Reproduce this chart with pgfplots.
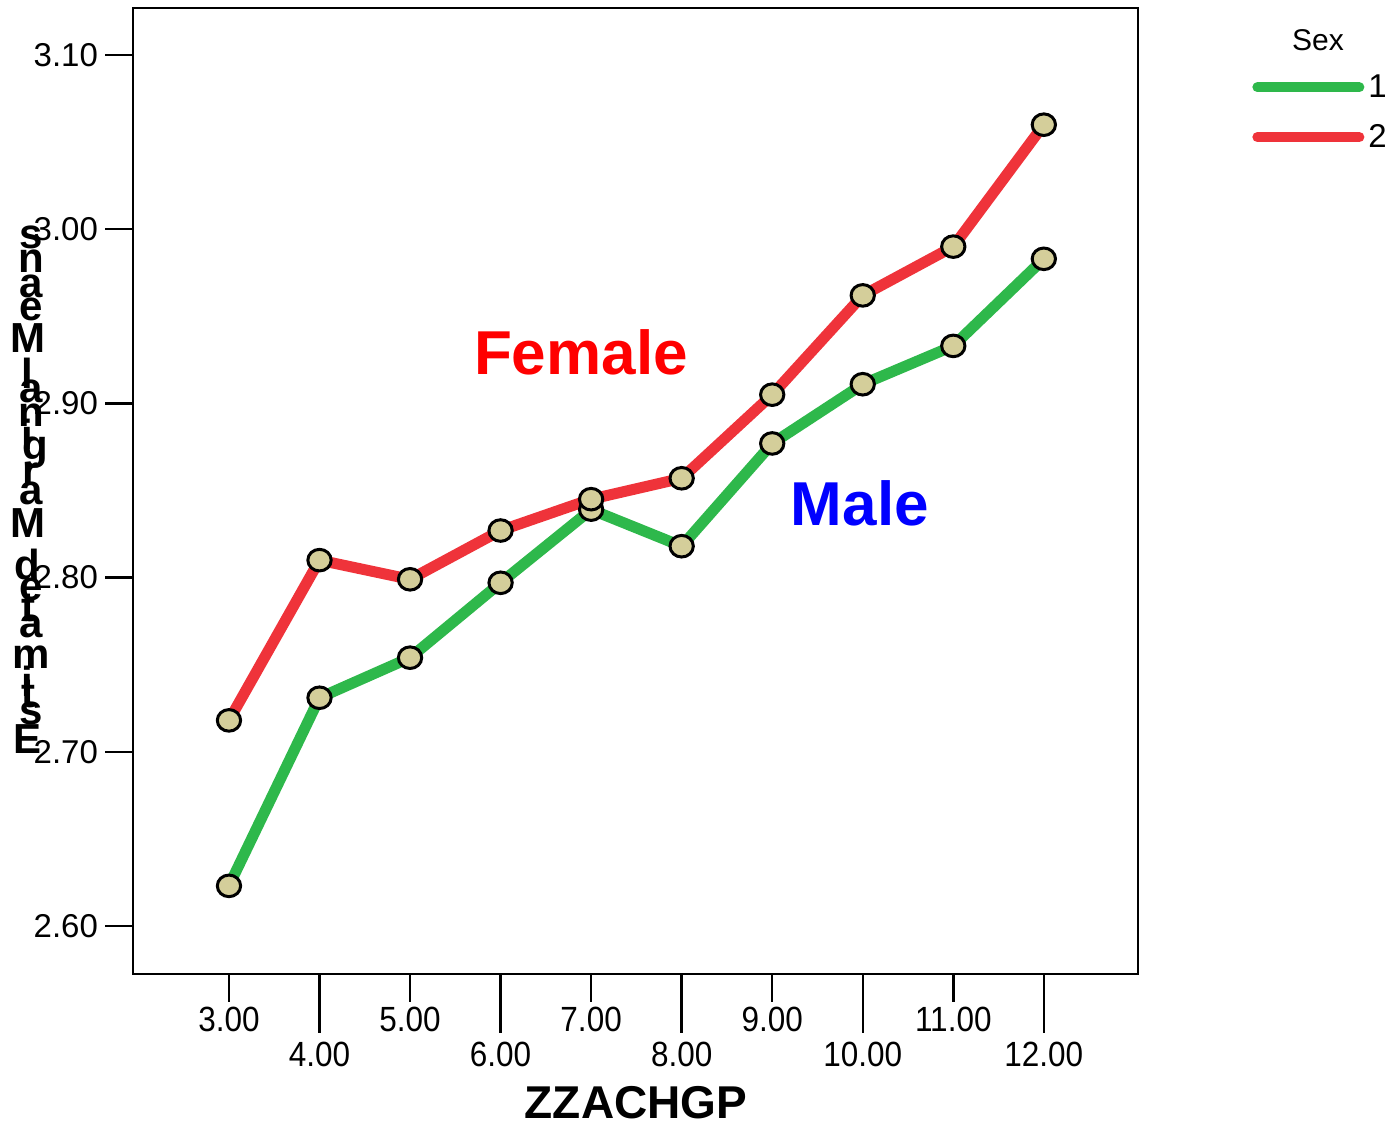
\documentclass[border=0pt]{standalone}
\usepackage{pgfplots}
\pgfplotsset{compat=1.18}
\usepackage{fontspec}
\setmainfont{Liberation Sans}
\usepackage{graphicx}
\definecolor{mgreen}{HTML}{2EB84B}
\definecolor{mred}{HTML}{EF333A}
\definecolor{mfill}{HTML}{D4CE9A}
\newsavebox\lbox
\newcommand\up[1]{\sbox\lbox{#1}\makebox[\wd\lbox]{\rotatebox[origin=c]{-90}{#1}}}
\newcommand\xl[1]{\scalebox{0.9}[1]{#1}}
\begin{document}
\begin{tikzpicture}
\useasboundingbox (-66.5pt,-75.5pt) rectangle (630.5pt,487pt);
\begin{axis}[
  at={(0,0)}, anchor=south west,
  scale only axis, width=502.5pt, height=483pt,
  xmin=1.94, xmax=13.04, ymin=2.5724, ymax=3.127,
  axis line style={line width=1.2pt},
  tick align=outside, tick style={black, line width=1.2pt},
  major tick length=14pt,
  xtick pos=bottom, ytick pos=left,
  xtick={3,5,7,9,11},
  xticklabels={\xl{3.00},\xl{5.00},\xl{7.00},\xl{9.00},\xl{11.00}},
  extra x ticks={4,6,8,10,12},
  extra x tick labels={\xl{4.00},\xl{6.00},\xl{8.00},\xl{10.00},\xl{12.00}},
  extra x tick style={major tick length=29.5pt, xticklabel style={yshift=-2pt}},
  xticklabel style={font=\fontsize{17.5}{19}\selectfont, inner sep=2.5pt},
  ytick={2.6,2.7,2.8,2.9,3.0,3.1},
  yticklabel style={font=\fontsize{16.5}{18}\selectfont, /pgf/number format/.cd, fixed, fixed zerofill, precision=2},
  /pgf/number format/assume math mode=true,
  legend style={draw=none, fill=none, at={(1.1134,0.892)}, anchor=west,
    font=\fontsize{16.5}{18}\selectfont, row sep=8pt, inner sep=0pt,
    cells={anchor=west}},
  legend image code/.code={\draw[#1, line width=5pt, line cap=round] (0pt,0pt) -- (51pt,0pt);},
  clip=false,
]
\addplot[mgreen, line width=5.5pt, mark=*, mark size=5.4pt,
  mark options={fill=mfill, draw=black, line width=1.5pt, xscale=1.08}]
  coordinates {(3,2.623) (4,2.731) (5,2.754) (6,2.797) (7,2.839) (8,2.818) (9,2.877) (10,2.911) (11,2.933) (12,2.983)};
\addlegendentry{1}
\addplot[mred, line width=5.5pt, mark=*, mark size=5.4pt,
  mark options={fill=mfill, draw=black, line width=1.5pt, xscale=1.08}]
  coordinates {(3,2.718) (4,2.810) (5,2.799) (6,2.827) (7,2.845) (8,2.857) (9,2.905) (10,2.962) (11,2.990) (12,3.060)};
\addlegendentry{2}
\node[font=\bfseries\fontsize{31}{36}\selectfont, text=red] at (axis cs:6.887,2.9295) {Female};
\node[font=\bfseries\fontsize{31}{36}\selectfont, text=blue] at (axis cs:9.968,2.8428) {Male};
\end{axis}
\node[font=\fontsize{15}{18}\selectfont] at (592.5pt,467pt) {Sex};
\node[font=\bfseries\fontsize{23}{26}\selectfont] at (251.5pt,-64.5pt) {ZZACHGP};
\node[rotate=90, font=\bfseries\fontsize{21}{24}\selectfont, inner sep=0pt] at (-51.5pt,242.5pt)
 {\up{E}\up{s}\up{t}\up{i}\up{m}\up{a}\up{t}\up{e}\up{d}\hspace{0.278em}\up{M}\up{a}\up{r}\up{g}\up{i}\up{n}\up{a}\up{l}\hspace{0.278em}\up{M}\up{e}\up{a}\up{n}\up{s}};
\end{tikzpicture}
\end{document}
